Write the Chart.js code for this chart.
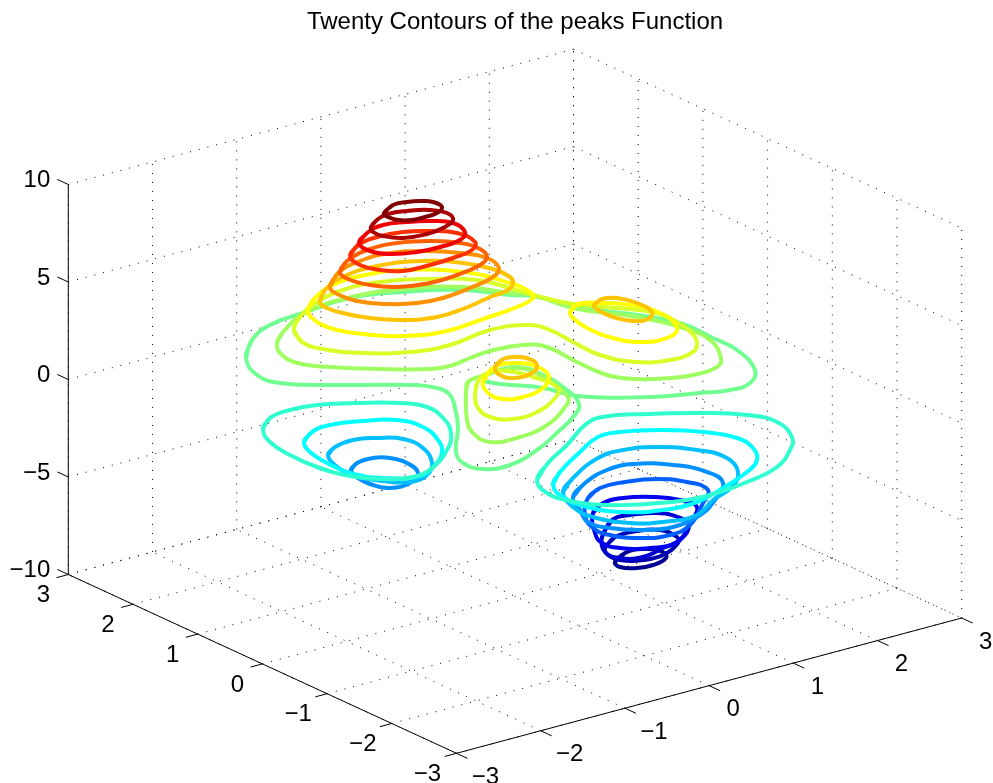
<!DOCTYPE html>
<html lang="en">
<head>
    <meta charset="UTF-8">
    <title>Twenty Contours of the peaks Function</title>
    <style>
        html, body { margin: 0; padding: 0; background: #fff; }
        canvas { display: block; }
    </style>
    <script src="https://cdn.jsdelivr.net/npm/chart.js"></script>
</head>
<body>
    <canvas id="contourChart" width="993" height="783"></canvas>

    <script>
        const titleText = 'Twenty Contours of the peaks Function';
        const xTicks = [-3, -2, -1, 0, 1, 2, 3];
        const yTicks = [-3, -2, -1, 0, 1, 2, 3];
        const zTicks = [-10, -5, 0, 5, 10];

        // contour colours, top level first (jet)
        const levelColors = ['#800000', '#aa0000', '#f00000', '#ff3000', '#ff6000', '#ff9000', '#ffc400',
            '#ffff00', '#d8ff28', '#a0ff60', '#70ff90', '#30ffd0', '#00ffff', '#00c0ff', '#0090ff',
            '#0060ff', '#0000ee', '#0000d0', '#0000b0', '#000090'];

        // contours, as points on the view plane
        const peakA1 = [[384,213],[393,205],[407,202],[420,201],[433,202],[442,207],[437,213],[425,217],[412,220],[398,220],[388,217],[384,213]];
        const peakA2 = [[371,227],[378,219],[388,214],[407,211],[430,210],[447,213],[453,220],[443,228],[427,234],[403,238],[383,236],[373,232],[371,227]];
        const peakA3 = [[359,243],[367,233],[383,225],[407,222],[430,221],[453,223],[465,232],[460,240],[440,247],[417,252],[390,254],[370,251],[359,243]];
        const peakA4 = [[350,256],[358,245],[377,237],[403,232],[430,231],[457,233],[475,242],[472,250],[453,258],[430,265],[403,271],[380,270],[360,265],[350,256]];
        const peakA5 = [[340,272],[347,261],[370,249],[397,243],[430,241],[460,243],[480,249],[487,257],[480,265],[457,275],[430,283],[397,287],[370,285],[348,279],[340,272]];
        const peakA6 = [[330,287],[338,273],[360,261],[390,253],[427,251],[460,253],[487,258],[499,268],[493,277],[470,288],[443,298],[417,303],[387,304],[357,301],[337,294],[330,287]];
        const peakA7 = [[320,302],[325,290],[343,277],[377,266],[423,261],[463,263],[493,269],[510,277],[513,283],[508,290],[490,297],[463,309],[437,317],[403,320],[370,318],[343,313],[327,308],[320,302]];
        const peakA8 = [[308,310],[313,300],[333,285],[370,274],[407,270],[463,272],[510,283],[530,292],[533,298],[517,307],[483,319],[447,331],[403,336],[363,334],[330,328],[312,318],[308,310]];
        const peakB7 = [[594,305],[602,299],[617,298],[637,303],[652,312],[648,319],[633,321],[613,317],[598,310],[594,305]];
        const peakB8 = [[570,312],[578,304],[600,303],[630,305],[660,313],[677,328],[667,338],[640,342],[613,338],[587,328],[573,318],[570,312]];
        const peakC7 = [[495,367],[503,359],[517,357],[532,360],[537,366],[532,373],[515,378],[500,375],[495,367]];
        const peakC8 = [[483,382],[493,368],[517,363],[540,368],[549,377],[543,388],[523,397],[503,399],[488,393],[483,382]];
        const peakC9 = [[475,397],[477,383],[487,373],[507,371],[533,377],[558,388],[555,398],[537,412],[513,419],[490,417],[478,408],[475,397]];
        const peakC10 = [[466,393],[468,382],[483,376],[517,368],[543,377],[568,397],[565,407],[547,425],[520,437],[490,442],[473,433],[467,420],[466,393]];
        const ridge9 = [[294,330],[302,342],[323,349],[363,353],[410,352],[450,345],[490,330],[530,325],[550,330],[573,342],[600,355],[637,362],[670,360],[693,352],[697,343],[692,333],[677,322],[657,313],[617,308],[573,304],[533,295],[510,288],[477,280],[430,279],[380,282],[337,292],[310,307],[300,317],[294,330]];
        const ridge10 = [[277,343],[283,332],[305,313],[347,298],[403,289],[463,287],[510,293],[533,295],[573,308],[637,317],[680,327],[710,340],[721,358],[717,367],[693,375],[670,378],[637,379],[607,375],[573,360],[547,347],[523,345],[490,351],[470,358],[450,366],[430,369],[380,369],[330,367],[297,363],[280,353],[277,343]];
        const ridge11 = [[246,358],[252,340],[270,325],[303,313],[350,298],[403,292],[463,290],[510,295],[533,296],[583,308],[637,315],[680,323],[713,338],[737,350],[755,370],[750,383],[730,390],[700,393],[650,397],[578,396],[543,388],[487,382],[485,377],[493,372],[517,367],[543,375],[563,387],[579,404],[573,417],[560,430],[537,450],[510,465],[483,469],[463,463],[456,452],[458,427],[455,408],[450,395],[437,388],[410,385],[330,385],[280,383],[257,375],[246,358]];
        const basinL12 = [[263,429],[270,418],[290,410],[317,405],[357,403],[400,403],[427,407],[443,418],[451,433],[447,450],[432,468],[413,477],[383,479],[350,476],[317,467],[290,455],[270,442],[263,429]];
        const basinL13 = [[304,442],[312,432],[330,425],[363,421],[397,420],[423,427],[438,440],[442,452],[435,465],[420,476],[383,478],[350,473],[327,463],[310,452],[304,442]];
        const basinL14 = [[328,455],[335,447],[353,440],[377,438],[403,439],[423,448],[432,463],[427,475],[410,482],[383,481],[353,475],[335,465],[328,455]];
        const basinL15 = [[351,470],[357,463],[373,458],[390,458],[407,463],[418,473],[410,483],[390,488],[373,485],[358,478],[351,470]];
        const basinR12 = [[537,480],[548,463],[567,445],[585,425],[602,417],[647,414],[703,413],[747,415],[777,422],[792,437],[790,450],[777,467],[747,482],[720,492],[687,500],[647,504],[607,505],[570,501],[547,493],[537,480]];
        const basinR13 = [[553,485],[560,472],[580,452],[598,437],[620,432],[663,430],[703,432],[737,438],[753,448],[757,460],[747,472],[723,488],[697,502],[663,510],[623,512],[587,507],[563,497],[553,485]];
        const basinR14 = [[563,492],[573,478],[598,458],[623,450],[657,447],[697,450],[727,458],[738,472],[732,487],[713,500],[697,515],[663,522],[630,523],[593,517],[573,507],[563,492]];
        const basinR15 = [[573,497],[585,483],[607,470],[633,464],[673,465],[707,472],[723,483],[715,500],[700,515],[673,527],[643,530],[610,528],[588,522],[580,510],[573,497]];
        const basinR16 = [[588,498],[600,488],[625,482],[657,479],[687,482],[708,490],[703,503],[690,525],[670,535],[640,538],[610,535],[593,528],[585,515],[588,498]];
        const basinR17 = [[593,513],[603,503],[623,498],[653,497],[680,500],[697,507],[690,523],[677,542],[650,548],[620,548],[602,543],[595,533],[593,513]];
        const basinR18 = [[602,537],[612,520],[630,515],[657,513],[678,517],[689,525],[680,540],[663,548],[643,557],[620,558],[605,552],[602,537]];
        const basinR19 = [[605,548],[615,537],[637,531],[660,530],[677,537],[678,543],[663,555],[643,560],[620,560],[608,555],[605,548]];
        const basinR20 = [[615,562],[625,553],[643,549],[663,552],[666,558],[653,565],[637,568],[620,567],[615,562]];

        // level index and loop, first in the list is painted last
        const contours = [
            [0, peakA1], [1, peakA2], [2, peakA3], [3, peakA4], [4, peakA5], [5, peakA6], [6, peakA7],
            [6, peakB7], [6, peakC7], [7, peakA8], [7, peakB8], [7, peakC8], [8, ridge9], [8, peakC9],
            [9, ridge10], [9, peakC10], [10, ridge11], [11, basinL12], [11, basinR12], [12, basinL13],
            [12, basinR13], [13, basinL14], [13, basinR14], [14, basinL15], [14, basinR15], [15, basinR16],
            [16, basinR17], [17, basinR18], [18, basinR19], [19, basinR20]
        ];

        // (x, y, z) to view plane
        function project(x, y, z) {
            return {
                x: 515 + x * 84.2 - y * 64.7,
                y: 401.25 - x * 22.55 - y * 29.8 - z * 19.5
            };
        }

        function lineSet(from, to, color, dash) {
            return {
                data: [project(...from), project(...to)],
                borderColor: color,
                borderWidth: 1,
                borderDash: dash,
                pointRadius: 0,
                tension: 0,
                showLine: true
            };
        }

        // the second point is repeated so the spline has no corner where the loop closes
        const datasets = contours.map(([level, points]) => ({
            data: points.concat([points[1]]).map(p => ({ x: p[0], y: p[1] })),
            borderColor: levelColors[level],
            borderWidth: 4,
            borderJoinStyle: 'round',
            borderCapStyle: 'round',
            pointRadius: 0,
            tension: 0.45,
            showLine: true
        }));

        // axes and their ticks
        const tickLen = 0.17;
        datasets.push(lineSet([-3, -3, -10], [3, -3, -10], '#000', []));
        datasets.push(lineSet([-3, -3, -10], [-3, 3, -10], '#000', []));
        datasets.push(lineSet([-3, 3, -10], [-3, 3, 10], '#000', []));
        xTicks.forEach(t => datasets.push(lineSet([t, -3, -10], [t, -3 - tickLen, -10], '#000', [])));
        yTicks.forEach(t => datasets.push(lineSet([-3, t, -10], [-3 - 0.14, t, -10], '#000', [])));
        zTicks.forEach(t => datasets.push(lineSet([-3, 3, t], [-3, 3 + tickLen, t], '#000', [])));

        // dotted grid on the floor and the two back walls
        const dots = [1, 8];
        xTicks.forEach(t => {
            datasets.push(lineSet([t, -3, -10], [t, 3, -10], '#000', dots));
            datasets.push(lineSet([t, 3, -10], [t, 3, 10], '#000', dots));
        });
        yTicks.forEach(t => {
            datasets.push(lineSet([-3, t, -10], [3, t, -10], '#000', dots));
            datasets.push(lineSet([3, t, -10], [3, t, 10], '#000', dots));
        });
        zTicks.forEach(t => {
            datasets.push(lineSet([-3, 3, t], [3, 3, t], '#000', dots));
            datasets.push(lineSet([3, 3, t], [3, -3, t], '#000', dots));
        });

        function tickText(t) {
            return t < 0 ? '\u2212' + Math.abs(t) : String(t);
        }

        const axisLabels = {
            id: 'axisLabels',
            afterDraw(chart) {
                const c = chart.ctx;
                const sx = chart.scales.x, sy = chart.scales.y;
                c.save();
                c.fillStyle = '#000';
                c.font = '24px "Liberation Sans"';
                c.textBaseline = 'middle';
                c.textAlign = 'center';
                xTicks.forEach(t => {
                    const p = project(t, -3, -10);
                    c.fillText(tickText(t), sx.getPixelForValue(p.x) + (t < 0 ? 29 : 24), sy.getPixelForValue(p.y) + 24);
                });
                yTicks.forEach(t => {
                    const p = project(-3, t, -10);
                    c.fillText(tickText(t), sx.getPixelForValue(p.x) - (t < 0 ? 29 : 25), sy.getPixelForValue(p.y) + 21);
                });
                c.textAlign = 'right';
                zTicks.forEach(t => {
                    const p = project(-3, 3, t);
                    c.fillText(tickText(t), sx.getPixelForValue(p.x) - 18, sy.getPixelForValue(p.y) - 4);
                });
                c.restore();
            }
        };

        new Chart(document.getElementById('contourChart').getContext('2d'), {
            type: 'scatter',
            data: { datasets: datasets },
            plugins: [axisLabels],
            options: {
                responsive: false,
                animation: false,
                layout: { padding: { left: 37 } },
                plugins: {
                    legend: { display: false },
                    tooltip: { enabled: false },
                    title: {
                        display: true,
                        text: titleText,
                        color: '#000',
                        font: { family: '"Liberation Sans"', size: 24, weight: 'normal' },
                        padding: { top: 8, bottom: 3.2 }
                    }
                },
                scales: {
                    x: { type: 'linear', min: 37, max: 993, display: false },
                    y: { type: 'linear', min: 40, max: 783, reverse: true, display: false }
                }
            }
        });
    </script>
</body>
</html>
